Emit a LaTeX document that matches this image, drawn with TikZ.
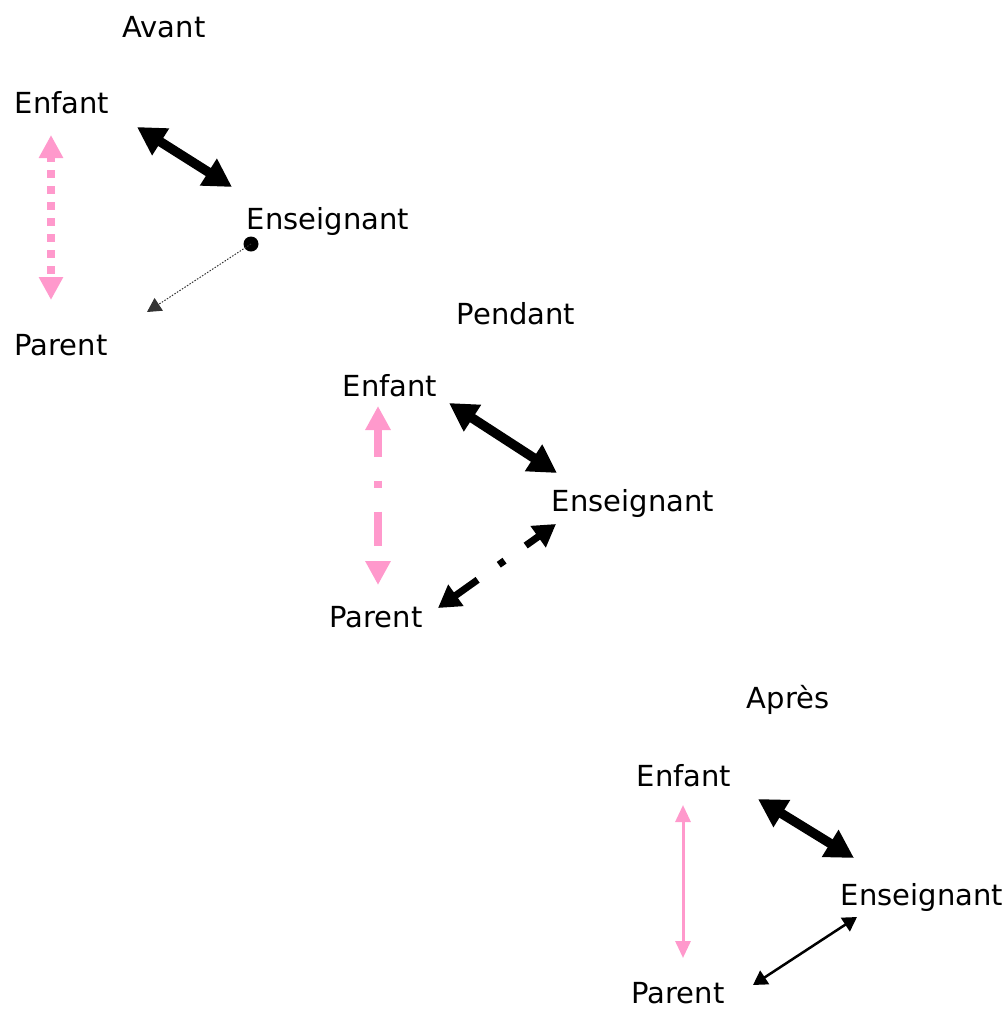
\documentclass[tikz,border=0pt]{standalone}
\usepackage{fontspec}
\setmainfont{DejaVu Sans}
\usetikzlibrary{arrows.meta}
\definecolor{rose}{RGB}{255,153,204}
\tikzset{
  lbl/.style={anchor=base, inner sep=0pt, font=\fontsize{29}{34}\selectfont},
  bigarrow/.style={line width=9.5pt, {Triangle[length=28pt,width=30pt]}-{Triangle[length=28pt,width=30pt]}},
  pinkdots/.style={rose, line width=7.5pt, dash pattern=on 7.5pt off 8.5pt, dash phase=2.5pt,
    {Triangle[length=23pt,width=23pt]}-{Triangle[length=23pt,width=23pt]}},
  pinkdashdot/.style={rose, line width=8pt, dash pattern=on 28pt off 24pt on 7pt off 24pt on 34pt off 30pt,
    {Triangle[length=24pt,width=24pt]}-{Triangle[length=24pt,width=24pt]}},
  blackdashdot/.style={line width=7pt, dash pattern=on 28pt off 26pt on 7pt off 26pt on 40pt off 10pt,
    {Triangle[length=22pt,width=25pt]}-{Triangle[length=22pt,width=25pt]}},
  finedots/.style={line width=1pt, black!80, dash pattern=on 1.5pt off 1.5pt,
    -{Triangle[length=14pt,width=15pt]}},
  pinkline/.style={rose, line width=3pt, {Triangle[length=17pt,width=15pt]}-{Triangle[length=17pt,width=15pt]}},
  thinarrow/.style={line width=2.5pt, {Triangle[length=14pt,width=16pt]}-{Triangle[length=14pt,width=16pt]}},
}
\begin{document}
\begin{tikzpicture}[x=1pt,y=-1pt]
\useasboundingbox (0,0) rectangle (1007,1010);

% --- Avant ---
\node[lbl] (tA) at (164,37) {Avant};
\node[lbl] (eA) at (62,113) {Enfant};
\node[lbl] (sA) at (328,229) {Enseignant};
\node[lbl] (pA) at (61,355) {Parent};
\coordinate (a1) at (137,127);
\coordinate (a2) at (232,187);
\coordinate (a3) at (51,135);
\coordinate (a4) at (51,300);
\coordinate (a5) at (147,312);
\node[circle, fill, inner sep=0pt, minimum size=15pt] (dA) at (251,244) {};
\draw[bigarrow] (a1) -- (a2);
\draw[pinkdots] (a3) -- (a4);
\draw[finedots] (dA.center) -- (a5);

% --- Pendant ---
\node[lbl] (tB) at (516,324) {Pendant};
\node[lbl] (eB) at (390,396) {Enfant};
\node[lbl] (sB) at (633,511) {Enseignant};
\node[lbl] (pB) at (376,627) {Parent};
\coordinate (b1) at (449,403);
\coordinate (b2) at (557,473);
\coordinate (b3) at (378,406);
\coordinate (b4) at (378,585);
\coordinate (b5) at (438,608);
\coordinate (b6) at (556,524);
\draw[bigarrow] (b1) -- (b2);
\draw[pinkdashdot] (b3) -- (b4);
\draw[blackdashdot] (b5) -- (b6);

% --- Après ---
\node[lbl] (tC) at (788,708) {Après};
\node[lbl] (eC) at (684,786) {Enfant};
\node[lbl] (sC) at (922,905) {Enseignant};
\node[lbl] (pC) at (678,1003) {Parent};
\coordinate (c1) at (758,799);
\coordinate (c2) at (854,858);
\coordinate (c3) at (683,805);
\coordinate (c4) at (683,958);
\coordinate (c5) at (753,985);
\coordinate (c6) at (857,917);
\draw[bigarrow] (c1) -- (c2);
\draw[pinkline] (c3) -- (c4);
\draw[thinarrow] (c5) -- (c6);
\end{tikzpicture}
\end{document}
